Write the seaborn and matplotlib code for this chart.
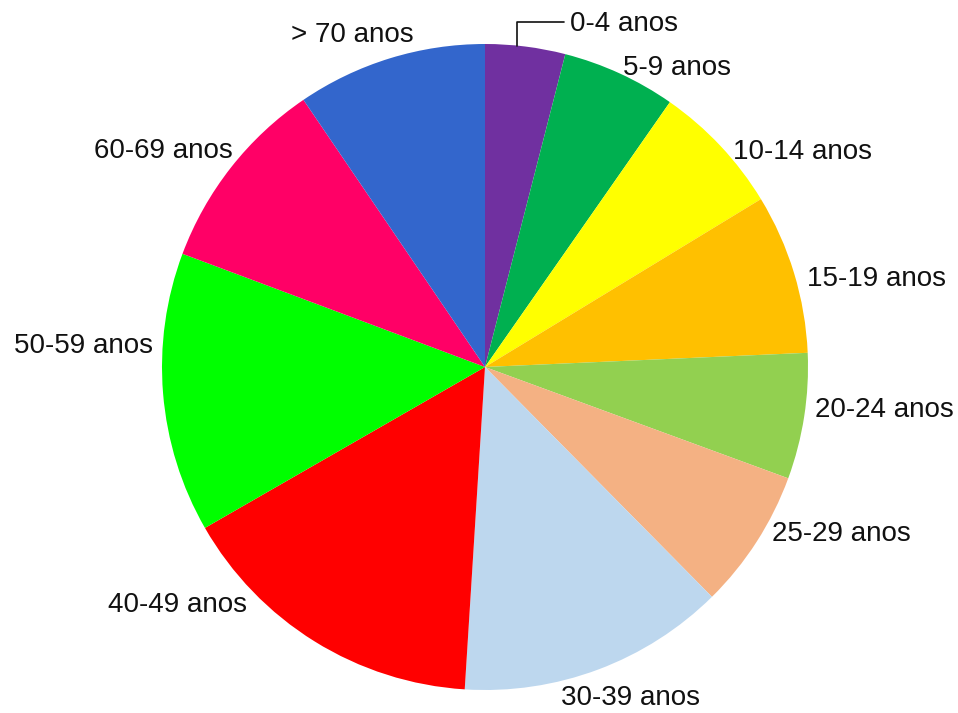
import matplotlib
matplotlib.use("Agg")
import matplotlib.pyplot as plt
import seaborn as sns
import numpy as np

# ---- data ----
categories = ["0-4 anos", "5-9 anos", "10-14 anos", "15-19 anos", "20-24 anos",
              "25-29 anos", "30-39 anos", "40-49 anos", "50-59 anos",
              "60-69 anos", "> 70 anos"]
values = [4.0, 5.7, 6.6, 8.0, 6.3, 7.0, 13.4, 15.7, 14.0, 9.8, 9.5]
slice_colors = ["#7030A0", "#00B050", "#FFFF00", "#FFC000", "#92D050",
                "#F4B183", "#BDD7EE", "#FF0000", "#00FF00", "#FF0066", "#3366CC"]

# ---- layout (pixels, figure 958x713, y measured from top) ----
W, H = 958, 713
cx, cy, R = 485, 367, 323
label_anchor = [(570, 24, "left"), (623, 68, "left"), (733, 152, "left"),
                (807, 279, "left"), (815, 410, "left"), (772, 534, "left"),
                (561, 698, "left"), (247, 605, "right"), (153, 346, "right"),
                (233, 151, "right"), (414, 35, "right")]

sns.set_theme(style="white")
plt.rcParams["font.family"] = ["Liberation Sans", "DejaVu Sans"]

fig = plt.figure(figsize=(W / 100, H / 100), dpi=100)
ax = fig.add_axes([0, 0, 1, 1])

palette = sns.color_palette(slice_colors)
wedges, _ = ax.pie(values, colors=palette, startangle=90, counterclock=False,
                   center=(cx, H - cy), radius=R, frame=True,
                   wedgeprops=dict(linewidth=0))
ax.set_xlim(0, W)
ax.set_ylim(0, H)
ax.set_aspect("equal")
ax.axis("off")

for lab, (lx, ly, ha) in zip(categories, label_anchor):
    ax.text(lx, H - ly, lab, ha=ha, va="center", fontsize=20, color="#111111")

# leader line for the smallest slice
w0 = wedges[0]
ang = np.deg2rad(w0.theta1 + 0.6 * (w0.theta2 - w0.theta1))
rx = cx + R * np.cos(ang)
ry = (H - cy) + R * np.sin(ang)
lx, ly, _ = label_anchor[0]
ax.plot([rx, rx, lx - 6], [ry, H - ly + 2, H - ly + 2], color="#111111", lw=1.2)

fig.savefig("out.png", dpi=100, facecolor="white")
